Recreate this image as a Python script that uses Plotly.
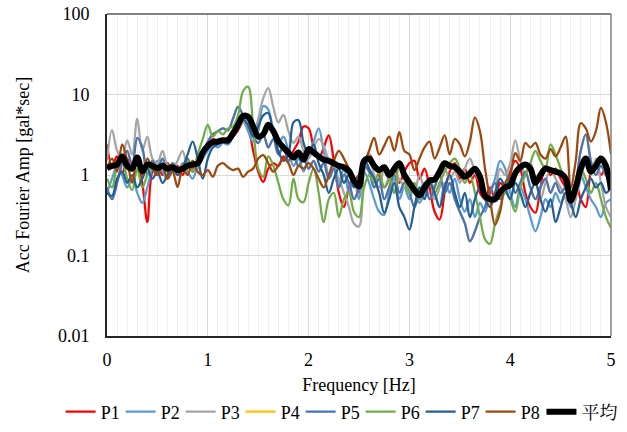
import numpy as np
import plotly.graph_objects as go

freq = [round(i * 0.05, 2) for i in range(101)]

p1 = [2.4, 1.3, 1.7, 1.0, 1.6, 1.2, 1.5, 0.8, 0.26, 1.1,
      1.3, 1.0, 1.4, 1.1, 1.3, 1.0, 1.4, 1.2, 1.5, 1.8,
      2.4, 2.8, 2.6, 2.7, 2.9, 3.0, 3.6, 4.5, 3.8, 2.0,
      1.1, 0.82, 1.2, 1.4, 1.3, 1.7, 1.5, 2.0, 2.6, 4.0,
      3.8, 2.2, 1.6, 2.2, 3.1, 1.5, 0.6, 0.4, 0.7, 0.9,
      0.6, 1.2, 1.8, 1.4, 1.0, 0.7, 0.9, 1.3, 0.8, 1.1,
      1.4, 1.5, 0.9, 1.2, 0.7, 0.35, 0.28, 0.6, 1.1, 1.4,
      0.9, 1.2, 0.8, 1.0, 0.6, 0.5, 0.7, 0.5, 0.8, 0.7,
      1.1, 1.5, 1.2, 0.6, 0.4, 0.34, 0.7, 1.3, 1.0, 1.2,
      0.9, 0.7, 0.55, 0.8, 0.5, 0.4, 1.1, 1.4, 1.0, 1.2,
      0.9]

p2 = [0.6, 0.9, 1.3, 1.0, 0.7, 0.9, 0.6, 0.45, 0.7, 1.2,
      1.5, 1.1, 0.9, 1.2, 1.0, 1.4, 1.1, 0.9, 1.3, 1.6,
      2.0, 2.4, 2.2, 2.5, 2.4, 3.0, 4.0, 4.6, 3.5, 2.6,
      3.5, 7.2, 6.5, 3.5, 2.5, 3.0, 2.0, 1.3, 1.6, 1.1,
      1.8, 2.6, 3.8, 2.0, 1.0, 1.4, 0.8, 1.2, 0.6, 0.9,
      0.5, 1.1, 0.8, 0.5, 0.35, 0.32, 0.6, 0.9, 0.5, 0.7,
      0.5, 0.8, 0.45, 0.6, 0.9, 0.6, 0.4, 0.8, 0.6, 0.9,
      0.5, 0.35, 0.5, 0.3, 0.45, 0.35, 0.6, 0.9, 1.5, 1.2,
      0.6, 0.4, 0.7, 0.5, 0.3, 0.2, 0.3, 0.5, 0.4, 0.6,
      0.45, 0.6, 0.4, 0.7, 1.0, 0.7, 0.5, 0.4, 0.3, 0.45,
      0.5]

p3 = [1.5, 3.6, 2.0, 1.6, 2.7, 1.8, 5.0, 2.0, 3.0, 1.6,
      1.4, 2.0, 1.3, 1.2, 1.5, 2.0, 1.3, 1.5, 1.2, 1.8,
      2.2, 2.6, 2.5, 2.8, 2.6, 3.0, 3.8, 4.5, 4.0, 3.2,
      5.0, 9.0, 12.0, 7.0, 4.5, 5.6, 3.5, 2.5, 3.0, 2.0,
      1.6, 2.2, 2.8, 2.3, 1.5, 1.2, 0.9, 0.6, 0.4, 0.25,
      0.23, 1.1, 1.8, 1.0, 0.7, 1.2, 0.8, 0.6, 0.9, 0.7,
      0.9, 0.6, 1.0, 0.7, 0.9, 0.5, 0.7, 1.2, 0.9, 1.1,
      0.8, 1.2, 1.6, 1.1, 0.8, 0.6, 0.4, 0.6, 1.2, 1.0,
      1.4, 2.7, 1.5, 1.0, 1.4, 0.9, 0.5, 0.8, 1.2, 0.9,
      0.7, 0.5, 0.3, 0.5, 0.9, 1.4, 1.0, 1.6, 0.8, 0.4,
      0.3]

p4 = [0.7, 0.5, 0.8, 1.4, 2.0, 1.3, 2.9, 2.2, 1.0, 1.5,
      1.2, 1.6, 1.1, 1.4, 1.2, 1.3, 1.6, 1.1, 1.5, 1.9,
      2.6, 3.2, 3.5, 3.8, 3.6, 5.0, 7.0, 5.5, 4.0, 3.0,
      2.5, 3.2, 2.2, 2.8, 1.8, 2.2, 1.5, 1.7, 1.3, 1.6,
      1.2, 1.5, 1.1, 1.4, 0.9, 1.2, 0.7, 1.0, 0.8, 0.5,
      0.7, 1.3, 1.1, 0.7, 0.9, 0.5, 0.7, 1.0, 0.6, 0.8,
      0.6, 0.4, 0.6, 0.8, 0.5, 0.7, 1.0, 0.6, 0.8, 0.5,
      0.35, 0.25, 0.15, 0.2, 0.3, 0.4, 0.6, 0.8, 0.5, 0.7,
      0.9, 0.6, 0.8, 1.1, 0.7, 0.5, 0.7, 0.9, 0.6, 0.8,
      0.6, 0.7, 0.5, 0.8, 2.0, 3.2, 1.5, 1.0, 1.3, 1.0,
      0.8]

p5 = [0.7, 0.5, 0.8, 1.4, 2.0, 1.3, 2.9, 2.2, 1.0, 1.5,
      1.2, 1.6, 1.1, 1.4, 1.2, 1.3, 1.6, 1.1, 1.5, 1.9,
      2.6, 3.2, 3.5, 3.8, 3.6, 5.0, 7.0, 5.5, 4.0, 3.0,
      2.5, 3.2, 2.2, 2.8, 1.8, 2.2, 1.5, 1.7, 1.3, 1.6,
      1.2, 1.5, 1.1, 1.4, 0.9, 1.2, 0.7, 1.0, 0.8, 0.5,
      0.7, 1.3, 1.1, 0.7, 0.9, 0.5, 0.7, 1.0, 0.6, 0.8,
      0.6, 0.4, 0.6, 0.8, 0.5, 0.7, 1.0, 0.6, 0.8, 0.5,
      0.35, 0.25, 0.15, 0.2, 0.3, 0.4, 0.6, 0.8, 0.5, 0.7,
      0.9, 0.6, 0.8, 1.1, 0.7, 0.5, 0.7, 0.9, 0.6, 0.8,
      0.6, 0.7, 0.5, 0.8, 2.0, 3.2, 1.5, 1.0, 1.3, 1.0,
      0.8]

p6 = [0.9, 0.7, 1.3, 1.6, 0.9, 0.65, 1.2, 0.7, 1.0, 1.3,
      1.0, 1.4, 1.1, 1.3, 1.1, 1.2, 1.5, 1.1, 1.8, 2.8,
      4.2, 3.0, 3.5, 3.2, 3.8, 4.0, 5.5, 11.0, 12.5, 4.0,
      1.2, 0.95, 1.7, 1.3, 0.8, 0.5, 0.42, 0.9, 0.5, 0.46,
      0.8, 1.2, 0.6, 0.26, 0.5, 0.6, 0.3, 0.5, 0.6, 0.35,
      0.3, 0.7, 1.0, 0.8, 1.1, 0.7, 0.9, 0.6, 1.4, 0.9,
      0.6, 0.8, 0.5, 0.7, 0.9, 0.6, 0.8, 1.1, 1.4, 1.6,
      1.2, 0.8, 1.0, 0.6, 0.3, 0.16, 0.14, 0.25, 0.4, 0.6,
      0.5, 0.35, 0.7, 1.0, 1.4, 2.0, 1.5, 1.2, 2.4, 1.8,
      1.2, 0.8, 0.6, 0.8, 1.2, 0.9, 0.6, 0.8, 0.5, 0.3,
      0.22]

p7 = [0.6, 0.55, 0.9, 1.1, 0.8, 1.0, 0.7, 0.9, 1.2, 0.9,
      1.1, 0.8, 1.0, 1.3, 1.0, 1.2, 1.8, 2.6, 1.6, 0.9,
      1.6, 2.2, 2.4, 2.6, 2.5, 3.0, 3.8, 4.8, 4.2, 3.0,
      4.0, 5.5, 5.9, 3.2, 2.0, 1.5, 1.8, 4.5, 4.8, 2.5,
      1.8, 2.4, 1.4, 1.0, 0.6, 0.9, 1.2, 0.8, 1.0, 0.7,
      1.0, 1.6, 1.2, 0.9, 0.6, 0.34, 0.5, 0.8, 0.4, 0.3,
      0.21, 0.4, 0.7, 0.5, 0.8, 0.6, 0.4, 0.7, 1.0, 0.6,
      0.4, 0.6, 0.3, 0.5, 0.7, 0.5, 0.4, 0.6, 0.9, 0.7,
      0.5, 0.8, 0.6, 0.4, 0.6, 0.8, 0.5, 0.35, 0.5, 0.26,
      0.4, 0.6, 0.45, 0.3, 0.5, 0.7, 0.9, 0.7, 0.8, 0.6,
      0.7]

p8 = [1.2, 1.6, 1.1, 2.4, 1.5, 0.8, 1.7, 1.0, 1.6, 1.2,
      1.0, 1.3, 0.9, 1.1, 0.71, 1.2, 1.0, 1.5, 1.1, 1.0,
      1.15, 0.95, 1.3, 1.4, 1.25, 1.15, 1.2, 0.95, 1.1, 1.2,
      1.6, 1.77, 1.4, 1.1, 1.3, 1.6, 1.4, 1.0, 1.3, 1.2,
      1.4, 1.2, 0.9, 0.7, 1.0, 1.5, 2.0, 1.6, 1.2, 0.9,
      1.0, 1.4, 2.0, 2.9, 1.8, 2.3, 3.0, 2.0, 3.4, 2.0,
      1.8, 1.15, 1.6, 2.2, 2.6, 1.6, 2.2, 3.1, 1.8, 2.8,
      2.4, 1.7, 2.6, 5.2, 3.5, 1.2, 0.5, 0.24, 0.35, 0.8,
      1.0, 1.87, 1.5, 2.5, 2.2, 2.5, 1.8, 1.6, 2.1, 1.7,
      2.2, 3.0, 0.69, 1.5, 4.4, 3.8, 2.6, 3.5, 6.8, 4.5,
      1.8]

avg = [1.22, 1.3, 1.35, 1.7, 1.3, 1.2, 1.65, 1.12, 1.35, 1.3,
       1.22, 1.3, 1.2, 1.25, 1.15, 1.2, 1.3, 1.35, 1.4, 1.9,
       2.3, 2.55, 2.6, 2.7, 2.7, 3.3, 4.2, 5.4, 5.3, 4.0,
       3.0, 3.2, 4.2, 3.5, 2.6, 2.2, 1.9, 1.65, 1.9, 1.55,
       2.1, 1.9, 1.7, 1.55, 1.5, 1.4, 1.3, 1.25, 1.12, 0.85,
       0.72, 1.5, 1.6, 1.3, 1.15, 1.25, 1.0, 1.2, 1.4, 1.0,
       0.8, 0.65, 0.56, 0.7, 0.85, 0.88, 1.1, 1.4, 1.3, 1.25,
       1.1, 0.95, 1.05, 1.2, 0.95, 0.55, 0.5, 0.5, 0.62, 0.7,
       0.75, 1.05, 1.25, 1.35, 1.2, 0.8, 1.0, 1.2, 1.15, 1.1,
       1.05, 0.9, 0.48, 0.7, 1.2, 1.6, 1.1, 1.3, 1.6, 1.3,
       0.65]

names = ["P1", "P2", "P3", "P4", "P5", "P6", "P7", "P8", "平均"]
series = [p1, p2, p3, p4, p5, p6, p7, p8, avg]
colors = ["#FF0000", "#5B9BD5", "#A5A5A5", "#FFC000", "#4472C4",
          "#70AD47", "#255E91", "#9E480E", "#000000"]
widths = [2.25, 2.25, 2.25, 2.25, 2.25, 2.25, 2.25, 2.25, 6]
legend_ids = ["legend"] * 8 + ["legend2"]

y_ticks = [0.01, 0.1, 1, 10, 100]
y_labels = ["0.01", "0.1", "1", "10", "100"]

FONT = "Liberation Serif, Times New Roman, Noto Serif CJK JP, Noto Sans CJK JP, serif"

fig = go.Figure()
for n, s, c, w, lg in zip(names, series, colors, widths, legend_ids):
    fig.add_trace(go.Scatter(x=freq, y=s, name=n, mode="lines", legend=lg,
                             line=dict(color=c, width=w, shape="spline", smoothing=1.0)))

leg_common = dict(orientation="h", y=-0.236, yanchor="middle",
                  font=dict(family=FONT, size=18, color="#000000"), itemwidth=30,
                  tracegroupgap=0, bgcolor="rgba(0,0,0,0)")

fig.update_layout(
    width=627, height=432,
    margin=dict(l=107, r=16, t=14, b=96, autoexpand=False),
    paper_bgcolor="white", plot_bgcolor="white",
    font=dict(family=FONT, size=18, color="#000000"),
    showlegend=True,
    legend=dict(x=-0.092, xanchor="left", entrywidth=15, entrywidthmode="pixels", **leg_common),
    legend2=dict(x=0.862, xanchor="left", **leg_common),
    xaxis=dict(range=[0, 5], dtick=1, tick0=0, showgrid=True, gridcolor="#d9d9d9", gridwidth=1,
               minor=dict(dtick=0.1, showgrid=True, gridcolor="#efefef", gridwidth=1),
               showline=True, linecolor="#262626", linewidth=2, zeroline=False,
               ticks="", ticklabelstandoff=6,
               tickfont=dict(family=FONT, size=18, color="#000000"),
               title=dict(text="Frequency [Hz]", font=dict(family=FONT, size=18, color="#000000"),
                          standoff=10)),
    yaxis=dict(type="log", range=[-2, 2], tickvals=y_ticks, ticktext=y_labels,
               showgrid=True, gridcolor="#d9d9d9", gridwidth=1,
               showline=True, linecolor="#262626", linewidth=2, zeroline=False,
               ticks="", ticklabelstandoff=12,
               tickfont=dict(family=FONT, size=18, color="#000000"),
               title=dict(text="Acc Fourier Amp [gal*sec]",
                          font=dict(family=FONT, size=18, color="#000000"), standoff=24)),
    shapes=[
        dict(type="line", xref="paper", yref="paper", x0=0, x1=1, y0=1, y1=1,
             line=dict(color="#595959", width=1.5), layer="above"),
        dict(type="line", xref="paper", yref="paper", x0=1, x1=1, y0=0, y1=1,
             line=dict(color="#808080", width=1.5), layer="above"),
    ],
)

fig.write_html("out.html")
